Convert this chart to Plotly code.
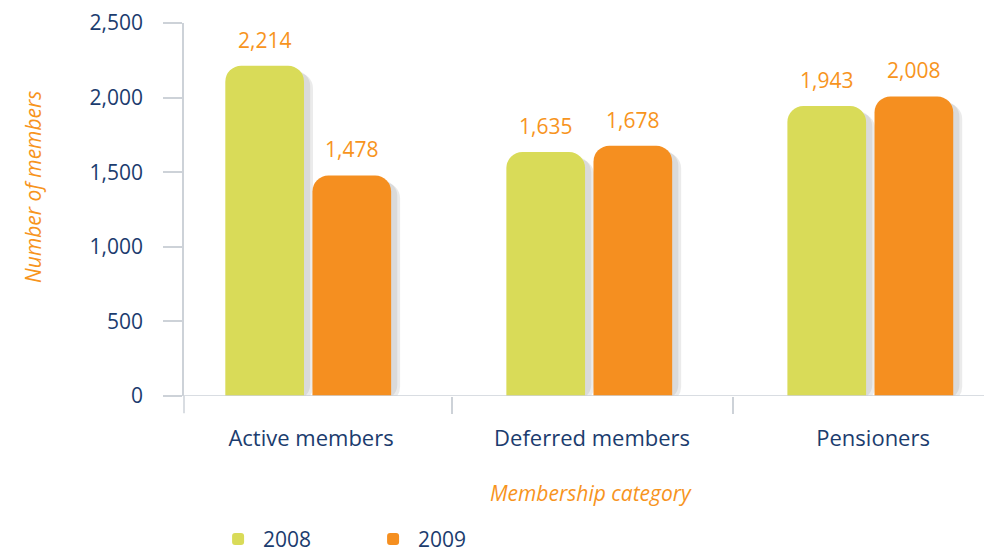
import plotly.graph_objects as go

categories = ["Active members", "Deferred members", "Pensioners"]
years = ["2008", "2009"]
values_2008 = [2214, 1635, 1943]
values_2009 = [1478, 1678, 2008]
y_ticks = [0, 500, 1000, 1500, 2000, 2500]

COL_2008 = "#D9DB58"
COL_2009 = "#F58F20"
LABEL = "#F7941D"
NAVY = "#1B3C6E"
FONT = "Open Sans"
BAR_W = 0.28
OFFSETS = [-0.305, 0.005]

fig = go.Figure()
# soft shadows behind the bars
for vals, off in [(values_2008, OFFSETS[0]), (values_2009, OFFSETS[1])]:
    for dx, base, alpha in [(0.012, -30, 0.07), (0.022, -45, 0.08)]:
        fig.add_trace(go.Bar(
            x=categories, y=vals, base=base, width=BAR_W + 0.01, offset=off + dx,
            marker=dict(color=f"rgba(0,0,0,{alpha})", line=dict(width=0), cornerradius=16),
            showlegend=False, hoverinfo="skip", cliponaxis=False,
        ))
for name, vals, col, off in [(years[0], values_2008, COL_2008, OFFSETS[0]),
                             (years[1], values_2009, COL_2009, OFFSETS[1])]:
    fig.add_trace(go.Bar(
        name=name, x=categories, y=vals, width=BAR_W, offset=off,
        marker=dict(color=col, line=dict(width=0), cornerradius=16),
        cliponaxis=False,
    ))
    for i, v in enumerate(vals):
        fig.add_annotation(x=i + off + BAR_W / 2, y=v, yshift=26, text=f"{v:,}",
                           showarrow=False, xanchor="center", yanchor="middle",
                           font=dict(size=21, color=LABEL))

fig.update_layout(
    width=984, height=548,
    margin=dict(l=176, r=0, t=15, b=160, autoexpand=False),
    plot_bgcolor="white", paper_bgcolor="white",
    barmode="overlay",
    font=dict(family=FONT, color=NAVY, size=21),
    showlegend=True,
    legend=dict(orientation="h", x=0.036, y=-0.384, xanchor="left", yanchor="middle",
                font=dict(size=21, color=NAVY), itemwidth=40, entrywidth=100,
                traceorder="normal", tracegroupgap=0),
)
fig.update_xaxes(
    range=[-0.452, 2.423], automargin=False,
    showline=False, ticks="outside", tickson="boundaries", ticklen=17,
    tickcolor="#CDD2D8", tickwidth=1.5,
    tickfont=dict(size=22, color=NAVY),
    ticklabelstandoff=27,
)
fig.update_yaxes(
    range=[0, 2500], tickvals=y_ticks, tickformat=",", automargin=False,
    showgrid=False, zeroline=False,
    showline=True, linecolor="#CDD2D8", linewidth=1.5,
    ticks="outside", ticklen=19, tickcolor="#CDD2D8", tickwidth=1.5,
    tickfont=dict(size=21, color=NAVY), ticklabelstandoff=16,
)
# axis titles
fig.add_annotation(text="<i>Membership category</i>", xref="paper", yref="paper",
                   x=(591 - 184) / 808, y=-(493 - 396) / 373, showarrow=False,
                   font=dict(size=21, color=LABEL), xanchor="center", yanchor="middle")
fig.add_annotation(text="<i>Number of members</i>", xref="paper", yref="paper",
                   x=-(184 - 33) / 808, y=(396 - 187) / 373, showarrow=False, textangle=-90,
                   font=dict(size=21, color=LABEL), xanchor="center", yanchor="middle")
# baseline and extended axis lines (axis decoration)
fig.add_shape(type="line", xref="paper", yref="y", x0=-0.0235, x1=1, y0=0, y1=0,
              line=dict(color="#CDD2D8", width=1.5), layer="above")
fig.add_shape(type="line", xref="paper", yref="paper", x0=0, x1=0, y0=-0.046, y1=0,
              line=dict(color="#CDD2D8", width=1.5))

fig.write_html("out.html")
